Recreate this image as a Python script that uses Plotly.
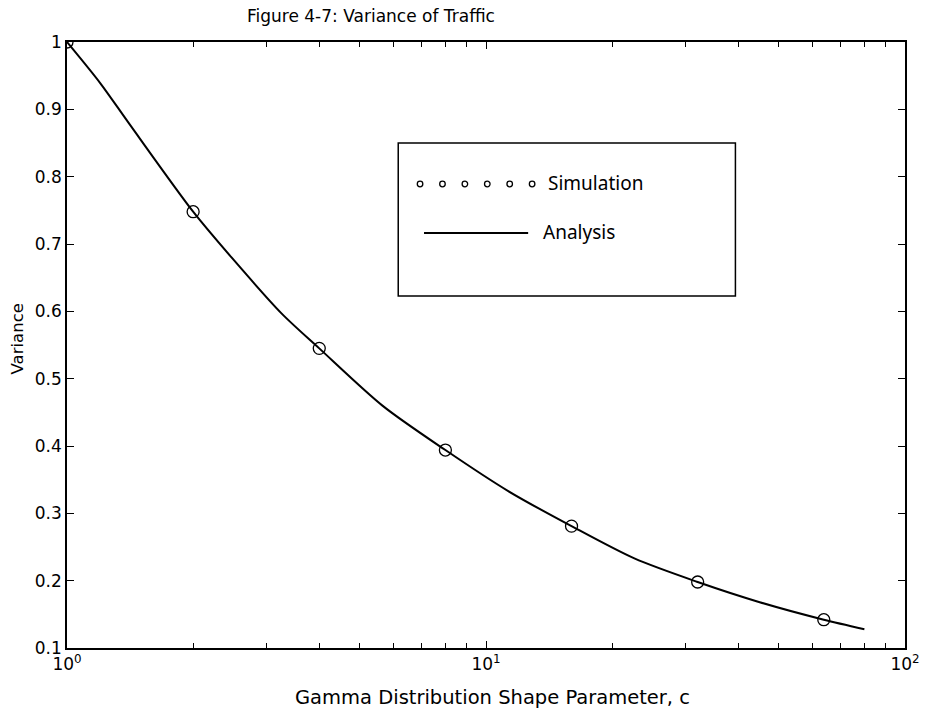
import plotly.graph_objects as go

# ---- data ----
sim_c = [1, 2, 4, 8, 16, 32, 64]
sim_var = [1.0, 0.748, 0.545, 0.394, 0.281, 0.198, 0.142]

ana_c = [1, 1.2, 1.41, 2, 2.47, 3.25, 4, 5.66, 8, 11.3, 16, 22.6, 32, 45, 64, 80]
ana_var = [1.0, 0.939, 0.878, 0.748, 0.68, 0.597, 0.545, 0.46, 0.394, 0.333,
           0.281, 0.233, 0.198, 0.168, 0.142, 0.128]

y_ticks = [0.1, 0.2, 0.3, 0.4, 0.5, 0.6, 0.7, 0.8, 0.9, 1.0]
y_ticktext = ["0.1", "0.2", "0.3", "0.4", "0.5", "0.6", "0.7", "0.8", "0.9", "1"]
x_ticks = [1, 10, 100]
x_ticktext = ["10<sup>0</sup>", "10<sup>1</sup>", "10<sup>2</sup>"]
x_minor = [2, 3, 4, 5, 6, 7, 8, 9, 20, 30, 40, 50, 60, 70, 80, 90]

title_text = "Figure 4-7: Variance of Traffic"
x_label = "Gamma Distribution Shape Parameter, c"
y_label = "Variance"
legend_labels = ["Simulation", "Analysis"]

# ---- layout geometry (pixels) ----
W, H = 932, 712
L, R, T, B = 67, 20, 42, 64
PW, PH = W - L - R, H - T - B


def px(xp):
    return (xp - L) / PW


def py(yp):
    return (H - B - yp) / PH


FONT = "DejaVu Sans, Liberation Sans, Arial, sans-serif"
LFONT = "Noto Sans, DejaVu Sans, sans-serif"

fig = go.Figure()
fig.add_trace(go.Scatter(
    x=ana_c, y=ana_var, mode="lines", name=legend_labels[1],
    line=dict(color="black", width=2, shape="spline", smoothing=0.8),
    showlegend=False,
))
fig.add_trace(go.Scatter(
    x=sim_c, y=sim_var, mode="markers", name=legend_labels[0],
    marker=dict(symbol="circle-open", size=12, color="black",
                line=dict(color="black", width=1.3)),
    showlegend=False,
))

shapes = []
annotations = []

# legend box
shapes.append(dict(type="rect", xref="paper", yref="paper",
                   x0=px(401), x1=px(741), y0=py(296), y1=py(143),
                   line=dict(color="black", width=1.5), fillcolor="white",
                   layer="below"))
# simulation sample markers
for i in range(6):
    cx = 423 + i * 22.6
    cy = 184
    r = 2.8
    shapes.append(dict(type="circle", xref="paper", yref="paper",
                       x0=px(cx - r), x1=px(cx + r), y0=py(cy + r), y1=py(cy - r),
                       line=dict(color="black", width=1.3)))
annotations.append(dict(xref="paper", yref="paper", x=px(550), y=py(183),
                        xanchor="left", yanchor="middle", showarrow=False,
                        text=legend_labels[0],
                        font=dict(family=LFONT, size=19, color="black")))
# analysis sample line
shapes.append(dict(type="line", xref="paper", yref="paper",
                   x0=px(427), x1=px(532), y0=py(233), y1=py(233),
                   line=dict(color="black", width=2.2)))
annotations.append(dict(xref="paper", yref="paper", x=px(545), y=py(232),
                        xanchor="left", yanchor="middle", showarrow=False,
                        text=legend_labels[1],
                        font=dict(family=LFONT, size=19, color="black")))

# axis titles
annotations.append(dict(xref="paper", yref="paper", x=px(17), y=py(339),
                        xanchor="center", yanchor="middle", showarrow=False,
                        textangle=-90, text=y_label,
                        font=dict(family=FONT, size=16.5, color="black")))
annotations.append(dict(xref="paper", yref="paper", x=px(496), y=py(697),
                        xanchor="center", yanchor="middle", showarrow=False,
                        text=x_label,
                        font=dict(family=FONT, size=19.5, color="black")))
annotations.append(dict(xref="paper", yref="paper", x=px(246), y=py(16),
                        xanchor="left", yanchor="middle", showarrow=False,
                        text=title_text,
                        font=dict(family=FONT, size=17, color="black")))

fig.update_layout(
    width=W, height=H,
    margin=dict(l=L, r=R, t=T, b=B, pad=0),
    paper_bgcolor="white", plot_bgcolor="white",
    font=dict(family=FONT, size=17, color="black"),
    shapes=shapes, annotations=annotations,
    showlegend=False,
)
fig.update_xaxes(
    type="log", range=[0, 2],
    tickvals=x_ticks, ticktext=x_ticktext,
    ticks="inside", ticklen=7, tickwidth=1.2, tickcolor="black",
    showline=True, linecolor="black", linewidth=1.5, mirror="ticks",
    showgrid=False, zeroline=False,
    tickfont=dict(family=FONT, size=17, color="black"),
    minor=dict(tickvals=x_minor, ticks="inside", ticklen=5,
               tickcolor="black", showgrid=False),
)
fig.update_yaxes(
    range=[0.1, 1.0],
    tickvals=y_ticks, ticktext=y_ticktext,
    ticks="inside", ticklen=7, tickwidth=1.2, tickcolor="black",
    showline=True, linecolor="black", linewidth=1.5, mirror="ticks",
    showgrid=False, zeroline=False,
    tickfont=dict(family=FONT, size=17, color="black"),
)

fig.write_html("out.html")
